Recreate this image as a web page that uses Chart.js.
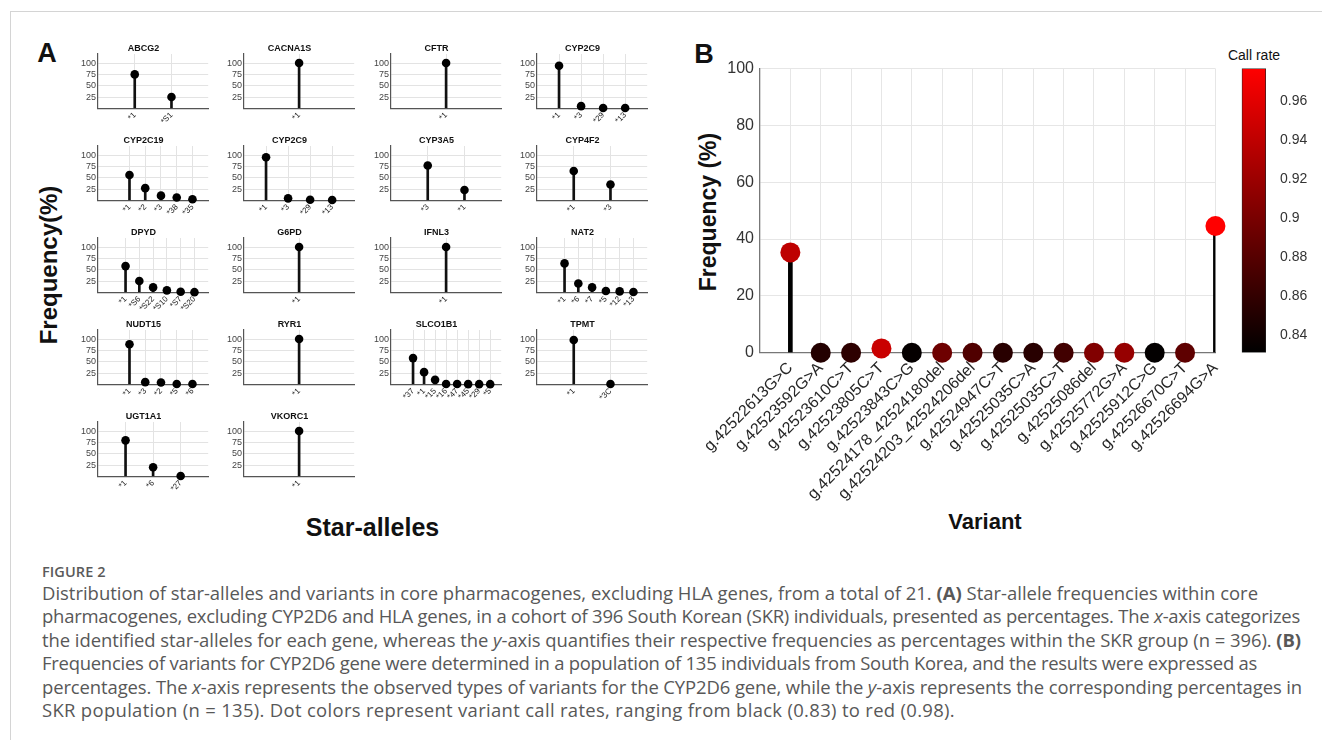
<!DOCTYPE html>
<html><head><meta charset="utf-8">
<script src="https://cdn.jsdelivr.net/npm/chart.js@4.4.1/dist/chart.umd.min.js"></script>
<style>
html,body{margin:0;padding:0;background:#fff}
body{width:1322px;height:740px;position:relative;overflow:hidden;font-family:'Liberation Sans',Arial,sans-serif}
canvas{position:absolute}
.lbl{position:absolute;transform:translate(-50%,-50%);white-space:nowrap;line-height:1;color:#111}
.rot{transform:translate(-50%,-50%) rotate(-90deg)}
#frame{position:absolute;left:10px;top:11px;width:1400px;height:800px;border-top:1.5px solid #d4d4d4;border-left:1.5px solid #d4d4d4}
#cap{position:absolute;left:42px;top:563px;font-family:'Open Sans',sans-serif;color:#585858}
#cap .fig{font-weight:600;font-size:14.5px;letter-spacing:0.1px;color:#5a5a5a;line-height:18px}
#cap .ln{white-space:nowrap;line-height:23.4px;font-size:16.2px;width:max-content}
</style></head><body>
<div id="frame"></div>
<div class="lbl" style="left:47px;top:53px;font-size:27px;font-weight:bold">A</div>
<div class="lbl" style="left:704px;top:54px;font-size:27px;font-weight:bold">B</div>
<div class="lbl rot" style="left:49px;top:265px;font-size:24px;font-weight:bold">Frequency(%)</div>
<div class="lbl" style="left:372.5px;top:527px;font-size:25px;font-weight:bold">Star-alleles</div>
<div class="lbl rot" style="left:708px;top:211.5px;font-size:23px;font-weight:bold">Frequency (%)</div>
<div class="lbl" style="left:985px;top:521.5px;font-size:22px;font-weight:bold">Variant</div>
<div class="lbl" style="left:1254px;top:54.5px;font-size:14px">Call rate</div>
<div id="cap">
<div class="fig">FIGURE 2</div>
<div class="ln" data-w="1216">Distribution of star-alleles and variants in core pharmacogenes, excluding HLA genes, from a total of 21. <b>(A)</b> Star-allele frequencies within core</div>
<div class="ln" data-w="1258">pharmacogenes, excluding CYP2D6 and HLA genes, in a cohort of 396 South Korean (SKR) individuals, presented as percentages. The <i>x</i>-axis categorizes</div>
<div class="ln" data-w="1259">the identified star-alleles for each gene, whereas the <i>y</i>-axis quantifies their respective frequencies as percentages within the SKR group (n = 396). <b>(B)</b></div>
<div class="ln" data-w="1215">Frequencies of variants for CYP2D6 gene were determined in a population of 135 individuals from South Korea, and the results were expressed as</div>
<div class="ln" data-w="1260">percentages. The <i>x</i>-axis represents the observed types of variants for the CYP2D6 gene, while the <i>y</i>-axis represents the corresponding percentages in</div>
<div class="ln" data-w="913">SKR population (n = 135). Dot colors represent variant call rates, ranging from black (0.83) to red (0.98).</div>
</div>
<canvas id="cB" width="535" height="481" style="left:700px;top:53px"></canvas>
<canvas id="cC" width="86" height="313.4" style="left:1236px;top:53.9px"></canvas>
<script>
// ---------- Panel A data ----------
const geneNames = ['ABCG2','CACNA1S','CFTR','CYP2C9','CYP2C19','CYP2C9','CYP3A5','CYP4F2','DPYD','G6PD','IFNL3','NAT2','NUDT15','RYR1','SLCO1B1','TPMT','UGT1A1','VKORC1'];
const alleleLabels = [
  ['*1','*S1'],
  ['*1'],
  ['*1'],
  ['*1','*3','*29','*13'],
  ['*1','*2','*3','*38','*35'],
  ['*1','*3','*29','*13'],
  ['*3','*1'],
  ['*1','*3'],
  ['*1','*S6','*S22','*S10','*S7','*S20'],
  ['*1'],
  ['*1'],
  ['*1','*6','*7','*5','*12','*13'],
  ['*1','*3','*2','*5','*6'],
  ['*1'],
  ['*37','*1','*15','*16','*47','*45','*29','*5'],
  ['*1','*3C'],
  ['*1','*6','*27'],
  ['*1']
];
const alleleFreq = [
  [75,25],
  [100],
  [100],
  [94,5,1,1],
  [56,27,10.5,6.5,2.5],
  [95,4.5,1.5,1],
  [77,23],
  [65,35],
  [58,25,11,4.5,1.5,0.5],
  [100],
  [100],
  [64,19.5,11,3,2.2,0.8],
  [88.5,5,4.3,1,1],
  [100],
  [58,27,10,1,0.8,0.6,0.5,0.5],
  [98,1],
  [79.5,20,1],
  [100]
];
// ---------- Panel B data ----------
const variants = ['g.42522613G>C','g.42523592G>A','g.42523610C>T','g.42523805C>T','g.42523843C>G','g.42524178_42524180del','g.42524203_42524206del','g.42524947C>T','g.42525035C>A','g.42525035C>T','g.42525086del','g.42525772G>A','g.42525912C>G','g.42526670C>T','g.42526694G>A'];
const variantFreq = [35.3,0,0,1.5,0,0,0,0,0,0,0,0,0,0,44.6];
const callRate = [0.940,0.851,0.857,0.946,0.834,0.894,0.877,0.854,0.854,0.868,0.905,0.917,0.833,0.885,0.977];
const callRateRange = [0.831,0.977];
const freqTicksB = [0,20,40,60,80,100];

Chart.defaults.font.family = "'Liberation Sans', Arial, sans-serif";
const colorOf = cr => {
  const t = Math.max(0, Math.min(1, (cr - callRateRange[0]) / (callRateRange[1] - callRateRange[0])));
  return 'rgb(' + Math.round(255 * t) + ',0,0)';
};

// ---------- Panel A small multiples ----------
const A_COL_X = [98, 244.3, 390.5, 536.7], A_ROW_Y = [54, 145.9, 237.8, 329.7, 421.6];
const A_W = 110.5, A_H = 54.6, YW = 24, TITLE_H = 14, XH = 30.6, RP = 4, RX = 5.3;
const gridA = '#e3e3e3', axisA = '#555';
geneNames.forEach((g, k) => {
  const r = Math.floor(k / 4), c = k % 4;
  const cv = document.createElement('canvas');
  cv.width = YW + A_W + RP + RX; cv.height = TITLE_H + A_H + XH;
  cv.style.left = (A_COL_X[c] - YW) + 'px';
  cv.style.top = (A_ROW_Y[r] - TITLE_H) + 'px';
  document.body.appendChild(cv);
  const labs = alleleLabels[k], vals = alleleFreq[k], n = labs.length;
  const lp = n >= 5 ? 2 : 1;
  const pts = vals.map((v, i) => ({x: i, y: v}));
  new Chart(cv, {
    type: 'bar',
    data: {datasets: [
      {type: 'line', data: pts, showLine: false, pointRadius: 4.3, pointHoverRadius: 4.3, pointBackgroundColor: '#000', pointBorderWidth: 0, clip: false, order: 0},
      {type: 'bar', data: pts, backgroundColor: '#111', barThickness: 2, order: 1}
    ]},
    options: {
      responsive: false, animation: false, events: [],
      layout: {padding: {top: 0, left: 0, right: RP, bottom: 0}},
      plugins: {legend: {display: false}, tooltip: {enabled: false},
        title: {display: true, text: g, font: {size: 9, weight: 'bold'}, color: '#111', padding: {top: 3, bottom: 0.2}}},
      scales: {
        x: {type: 'linear', offset: false, min: -lp, max: n, afterFit: s => { s.height = XH; },
          ticks: {stepSize: 1, autoSkip: false, minRotation: 45, maxRotation: 45, padding: 2, font: {size: 8}, color: '#222',
            callback: v => (labs[v] !== undefined ? labs[v] : '')},
          grid: {offset: false, drawTicks: false, color: ctx => (ctx.tick && ctx.tick.value >= 0 && ctx.tick.value < n) ? gridA : 'rgba(0,0,0,0)'},
          border: {color: axisA, width: 1.2}},
        y: {min: 0, max: 120, afterFit: s => { s.width = YW; },
          ticks: {stepSize: 25, autoSkip: false, includeBounds: false, padding: 2, font: {size: 9}, color: '#444', callback: v => (v === 0 ? '' : v)},
          grid: {drawTicks: false, color: ctx => (ctx.tick && ctx.tick.value > 0) ? gridA : 'rgba(0,0,0,0)'},
          border: {color: axisA, width: 1.2}}
      }
    }
  });
});

// ---------- Panel B ----------
const ptsB = variantFreq.map((v, i) => ({x: i + 1, y: v}));
new Chart(document.getElementById('cB'), {
  type: 'bar',
  data: {datasets: [
    {type: 'line', data: ptsB, showLine: false, pointRadius: 10, pointHoverRadius: 10, pointBackgroundColor: callRate.map(colorOf), pointBorderWidth: 0, clip: false, order: 0},
    {type: 'bar', data: ptsB, backgroundColor: '#000', barThickness: 4, order: 1}
  ]},
  options: {
    responsive: false, animation: false, events: [],
    layout: {padding: {top: 10.3, left: 0, right: 5, bottom: 0}},
    plugins: {legend: {display: false}, tooltip: {enabled: false}},
    scales: {
      x: {type: 'linear', offset: false, min: 0, max: variants.length, afterFit: s => { s.height = 181.3; },
        ticks: {stepSize: 1, autoSkip: false, minRotation: 45, maxRotation: 45, padding: 6, font: {size: 16}, color: '#262626',
          callback: v => (variants[v - 1] !== undefined ? variants[v - 1] : '')},
        grid: {offset: false, drawTicks: false, color: ctx => (ctx.tick && ctx.tick.value > 0) ? '#e6e6e6' : 'rgba(0,0,0,0)'},
        border: {color: '#777', width: 1.3}},
      y: {min: freqTicksB[0], max: freqTicksB[freqTicksB.length - 1], afterFit: s => { s.width = 60; },
        ticks: {stepSize: 20, autoSkip: false, padding: 6, font: {size: 16}, color: '#333'},
        grid: {drawTicks: false, color: ctx => (ctx.tick && ctx.tick.value > 0) ? '#e6e6e6' : 'rgba(0,0,0,0)'},
        border: {color: '#777', width: 1.3}}
    }
  }
});

// ---------- Colorbar ----------
new Chart(document.getElementById('cC'), {
  type: 'bar',
  data: {labels: [''], datasets: [{data: [callRateRange], borderWidth: 1, borderColor: '#222', borderSkipped: false,
    backgroundColor: ctx => {
      const ch = ctx.chart, area = ch.chartArea;
      if (!area) return '#800';
      const gr = ch.ctx.createLinearGradient(0, area.bottom, 0, area.top);
      gr.addColorStop(0, colorOf(callRateRange[0])); gr.addColorStop(1, colorOf(callRateRange[1]));
      return gr;
    }, barPercentage: 1, categoryPercentage: 1}]},
  options: {
    responsive: false, animation: false, events: [],
    layout: {padding: {top: 10.3, left: 5.7, right: 0, bottom: 10.3}},
    plugins: {legend: {display: false}, tooltip: {enabled: false}},
    scales: {
      x: {display: false},
      y: {position: 'right', min: callRateRange[0], max: callRateRange[1], afterFit: s => { s.width = 56; },
        ticks: {stepSize: 0.02, autoSkip: false, includeBounds: false, padding: 6, font: {size: 14}, color: '#333', callback: v => String(+v.toFixed(2))},
        grid: {display: false}, border: {display: false}}
    }
  }
});

// fit caption lines
(function(){
  const lines = document.querySelectorAll('#cap .ln');
  const w1 = lines[0].getBoundingClientRect().width;
  const fs = 16.2 * (+lines[0].dataset.w) / w1;
  lines.forEach(e => {
    e.style.fontSize = fs + 'px';
    const w = e.getBoundingClientRect().width;
    const nChars = e.textContent.length;
    e.style.letterSpacing = ((+e.dataset.w - w) / nChars) + 'px';
  });
})();
</script>
</body></html>
